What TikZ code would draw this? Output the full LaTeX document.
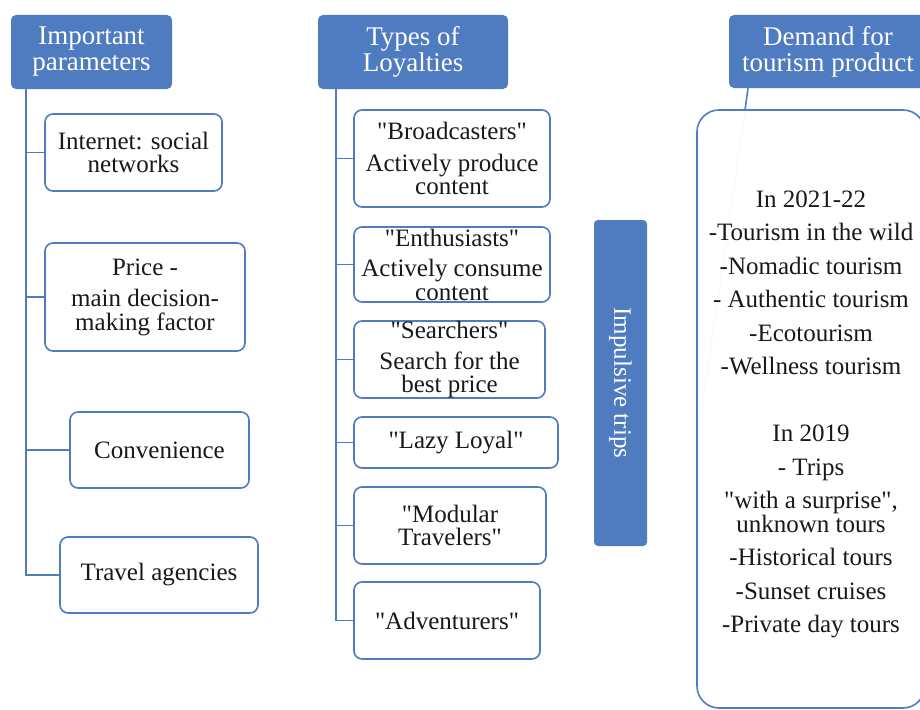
\documentclass[tikz,border=0pt]{standalone}
\usepackage{fontspec}
\setmainfont{Liberation Serif}[Ligatures=TeXOff]
\newcommand\qq{"}
\definecolor{myblue}{RGB}{79,124,192}
\definecolor{faintblue}{RGB}{215,225,240}
\definecolor{txt}{RGB}{25,25,25}
\begin{document}
\begin{tikzpicture}[x=1pt,y=-1pt,
  hdr/.style={fill=myblue, rounded corners=5pt, text=white, align=center, inner sep=0pt,
     font=\fontsize{27}{26}\selectfont},
  itembox/.style={draw=myblue, line width=1.6pt, rounded corners=8pt, fill=white, align=center,
     inner sep=0pt, text=txt, font=\fontsize{25}{23.5}\selectfont},
  conn/.style={draw=myblue, line width=1.6pt},
  faintline/.style={draw=faintblue, line width=1.2pt}]
\useasboundingbox (0,0) rectangle (920,709);
\clip (0,0) rectangle (920,709);
\fill[white] (0,0) rectangle (920,709);

% headers
\node[hdr, minimum width=161pt, minimum height=74pt] (h1) at (91.5,52) {Important\\parameters};
\node[hdr, minimum width=190pt, minimum height=74pt] (h2) at (413,52) {Types of\\Loyalties};
\node[hdr, minimum width=198pt, minimum height=73pt] (h3) at (828,51.5) {Demand for\\tourism product};

% left column
\node[itembox, minimum width=177pt, minimum height=77pt] (inet) at (133.5,152.5) {Internet: social\\networks};
\node[itembox, minimum width=200pt, minimum height=108pt] (price) at (145,297) {Price -\\[8pt]main decision-\\making factor};
\node[itembox, minimum width=179pt, minimum height=76pt] (conv) at (159.5,450) {Convenience};
\node[itembox, minimum width=198pt, minimum height=76pt] (trav) at (159,575) {Travel agencies};

% middle column
\node[itembox, minimum width=196pt, minimum height=97pt] (bc) at (452,158.5) {\qq Broadcasters\qq\\[8pt]Actively produce\\content};
\node[itembox, minimum width=196pt, minimum height=75pt] (en) at (452,264.5) {\qq Enthusiasts\qq\\[7pt]Actively consume\\content};
\node[itembox, minimum width=191pt, minimum height=77pt] (se) at (449.5,359.5) {\qq Searchers\qq\\[7pt]Search for the\\best price};
\node[itembox, minimum width=204pt, minimum height=51pt] (lazy) at (456,442.5) {\qq Lazy Loyal\qq};
\node[itembox, minimum width=192pt, minimum height=77pt] (mod) at (450,525.5) {\qq Modular\\Travelers\qq};
\node[itembox, minimum width=186pt, minimum height=77pt] (adv) at (447,620.5) {\qq Adventurers\qq};

% impulsive trips
\node[fill=myblue, rounded corners=4pt, minimum width=53pt, minimum height=326pt, inner sep=0pt] (imp) at (620.5,383) {};
\node[text=white, rotate=-90, font=\fontsize{25}{25}\selectfont, inner sep=0pt] (impt) at (imp.center) {Impulsive trips};

% right box
\coordinate (hc) at (748,0);
\coordinate (rtop) at (745,110);
\coordinate (rend) at (700.5,420);
\draw[faintline] (rtop) -- (rend);
\node[draw=myblue, line width=1.6pt, rounded corners=22pt, minimum width=228pt, minimum height=598pt, inner sep=0pt, fill=white, fill opacity=0.85] (rbox) at (811,409) {};
\node[text=txt, align=center, inner sep=0pt, font=\fontsize{25}{23.5}\selectfont] (rtext) at (811,414.5) {In 2021-22\\[10pt]
-Tourism in the wild\\[10pt]
-Nomadic tourism\\[10pt]
- Authentic tourism\\[10pt]
-Ecotourism\\[10pt]
-Wellness tourism\\[43.5pt]
In 2019\\[10pt]
- Trips\\[10pt]
\qq with a surprise\qq,\\
unknown tours\\[10pt]
-Historical tours\\[10pt]
-Sunset cruises\\[10pt]
-Private day tours};
\draw[conn] (h3.south -| hc) -- (rtop);

% left trunk
\coordinate (tl) at (26,0);
\draw[conn] (h1.south -| tl) |- (trav.west);
\draw[conn] (inet.west) -- (inet.west -| tl);
\draw[conn] (price.west) -- (price.west -| tl);
\draw[conn] (conv.west) -- (conv.west -| tl);

% middle trunk
\coordinate (tm) at (336,0);
\draw[conn] (h2.south -| tm) |- (adv.west);
\draw[conn] (bc.west) -- (bc.west -| tm);
\draw[conn] (en.west) -- (en.west -| tm);
\draw[conn] (se.west) -- (se.west -| tm);
\draw[conn] (lazy.west) -- (lazy.west -| tm);
\draw[conn] (mod.west) -- (mod.west -| tm);
\end{tikzpicture}
\end{document}
